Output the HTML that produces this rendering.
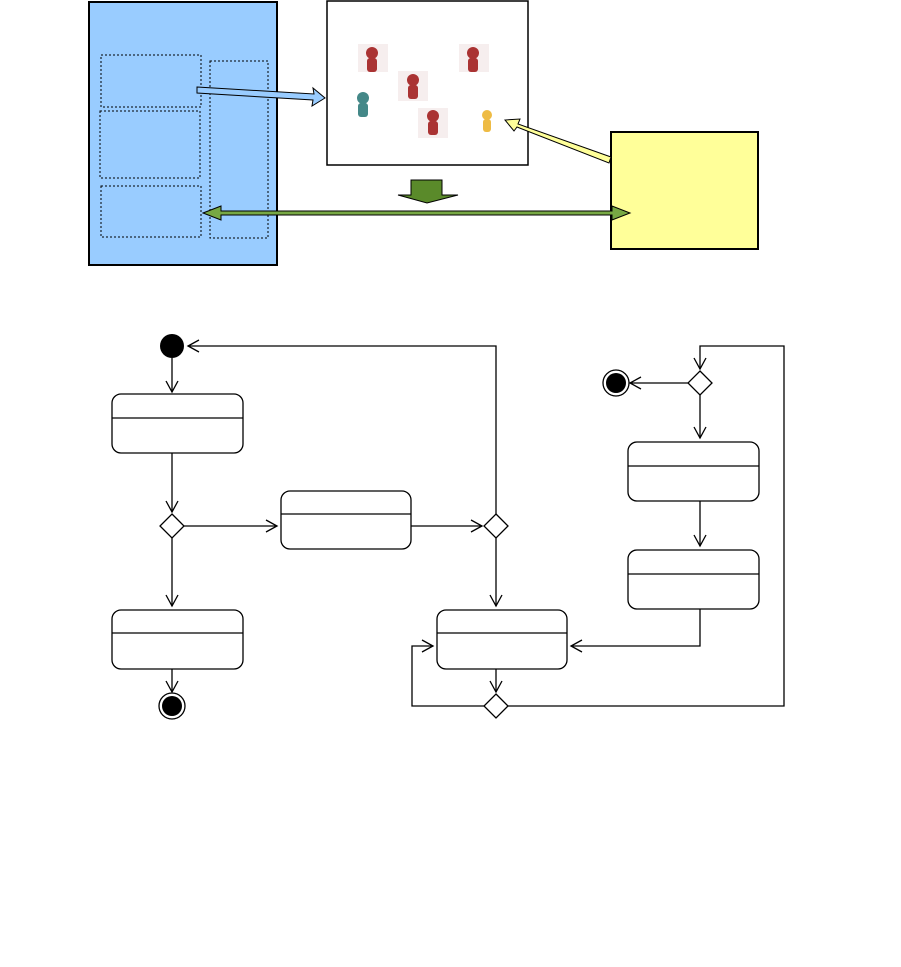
<!DOCTYPE html>
<html><head><meta charset="utf-8"><style>body{margin:0;background:#fff}svg{display:block}</style></head><body>
<svg width="901" height="967" viewBox="0 0 901 967" xmlns="http://www.w3.org/2000/svg">
<defs>
<marker id="a" markerWidth="14" markerHeight="14" refX="12" refY="7" orient="auto" markerUnits="userSpaceOnUse"><path d="M1,1 L12,7 L1,13" fill="none" stroke="#000" stroke-width="1.3"/></marker>
</defs>
<!-- top -->
<rect x="89" y="2" width="188" height="263" fill="#99ccff" stroke="#000" stroke-width="2"/>
<g fill="none" stroke="#000" stroke-dasharray="2,2" stroke-width="1">
<rect x="101" y="55" width="100" height="52"/><rect x="100" y="111" width="100" height="67"/>
<rect x="101" y="186" width="100" height="51"/><rect x="210" y="61" width="58" height="177"/>
</g>
<rect x="327" y="1" width="201" height="164" fill="#fff" stroke="#000" stroke-width="1.5"/>
<rect x="611" y="132" width="147" height="117" fill="#ffff99" stroke="#000" stroke-width="2"/>
<g>
<rect x="358" y="44" width="30" height="28" fill="#f6eeee"/><rect x="459" y="44" width="30" height="28" fill="#f6eeee"/>
<rect x="398" y="71" width="30" height="30" fill="#f6eeee"/><rect x="418" y="108" width="30" height="30" fill="#f6eeee"/>
<circle cx="372" cy="53" r="6" fill="#a33"/><rect x="367" y="58" width="10" height="14" rx="3" fill="#a33"/>
<circle cx="473" cy="53" r="6" fill="#a33"/><rect x="468" y="58" width="10" height="14" rx="3" fill="#a33"/>
<circle cx="413" cy="80" r="6" fill="#a33"/><rect x="408" y="85" width="10" height="14" rx="3" fill="#a33"/>
<circle cx="363" cy="98" r="6" fill="#488"/><rect x="358" y="103" width="10" height="14" rx="3" fill="#488"/>
<circle cx="433" cy="116" r="6" fill="#a33"/><rect x="428" y="121" width="10" height="14" rx="3" fill="#a33"/>
<circle cx="487" cy="115" r="5" fill="#eb4"/><rect x="483" y="119" width="8" height="13" rx="3" fill="#eb4"/>
</g>
<polygon points="197,87 314,94 313,88 325,98 312,106 313,100 197,93" fill="#99ccff" stroke="#000" stroke-width="1"/>
<polygon points="611,157 518,124 520,119 505,120 514,131 517,127 609,163" fill="#ffff99" stroke="#000" stroke-width="1"/>
<polygon points="411,180 442,180 442,195 458,195 427,203 398,195 411,195" fill="#5a8a2a" stroke="#000" stroke-width="1"/>
<polygon points="203,213 221,206 221,211 612,211 612,206 630,213 612,220 612,215 221,215 221,220" fill="#77a844" stroke="#000" stroke-width="1"/>
<!-- bottom -->
<g fill="none" stroke="#000" stroke-width="1.3">
<rect x="112" y="394" width="131" height="59" rx="9" fill="#fff"/><line x1="112" y1="418" x2="243" y2="418"/>
<rect x="281" y="491" width="130" height="58" rx="9" fill="#fff"/><line x1="281" y1="514" x2="411" y2="514"/>
<rect x="112" y="610" width="131" height="59" rx="9" fill="#fff"/><line x1="112" y1="633" x2="243" y2="633"/>
<rect x="437" y="610" width="130" height="59" rx="9" fill="#fff"/><line x1="437" y1="633" x2="567" y2="633"/>
<rect x="628" y="442" width="131" height="59" rx="9" fill="#fff"/><line x1="628" y1="466" x2="759" y2="466"/>
<rect x="628" y="550" width="131" height="59" rx="9" fill="#fff"/><line x1="628" y1="574" x2="759" y2="574"/>
<polygon points="172,514 184,526 172,538 160,526" fill="#fff"/>
<polygon points="496,514 508,526 496,538 484,526" fill="#fff"/>
<polygon points="496,694 508,706 496,718 484,706" fill="#fff"/>
<polygon points="700,371 712,383 700,395 688,383" fill="#fff"/>
<path d="M172,358 V392" marker-end="url(#a)"/>
<path d="M172,453 V512" marker-end="url(#a)"/>
<path d="M184,526 H277" marker-end="url(#a)"/>
<path d="M411,526 H482" marker-end="url(#a)"/>
<path d="M496,514 V346 H188" marker-end="url(#a)"/>
<path d="M172,538 V606" marker-end="url(#a)"/>
<path d="M172,669 V692" marker-end="url(#a)"/>
<path d="M496,538 V606" marker-end="url(#a)"/>
<path d="M496,669 V692" marker-end="url(#a)"/>
<path d="M484,706 H412 V646 H433" marker-end="url(#a)"/>
<path d="M508,706 H784 V346 H700 V369" marker-end="url(#a)"/>
<path d="M688,383 H630" marker-end="url(#a)"/>
<path d="M700,395 V438" marker-end="url(#a)"/>
<path d="M700,501 V546" marker-end="url(#a)"/>
<path d="M700,609 V646 H571" marker-end="url(#a)"/>
</g>
<ellipse cx="172" cy="346" rx="12" ry="12" fill="#000"/>
<circle cx="172" cy="706" r="13" fill="#fff" stroke="#000" stroke-width="1.3"/><circle cx="172" cy="706" r="10" fill="#000"/>
<circle cx="616" cy="383" r="13" fill="#fff" stroke="#000" stroke-width="1.3"/><circle cx="616" cy="383" r="10" fill="#000"/>
</svg>
</body></html>
